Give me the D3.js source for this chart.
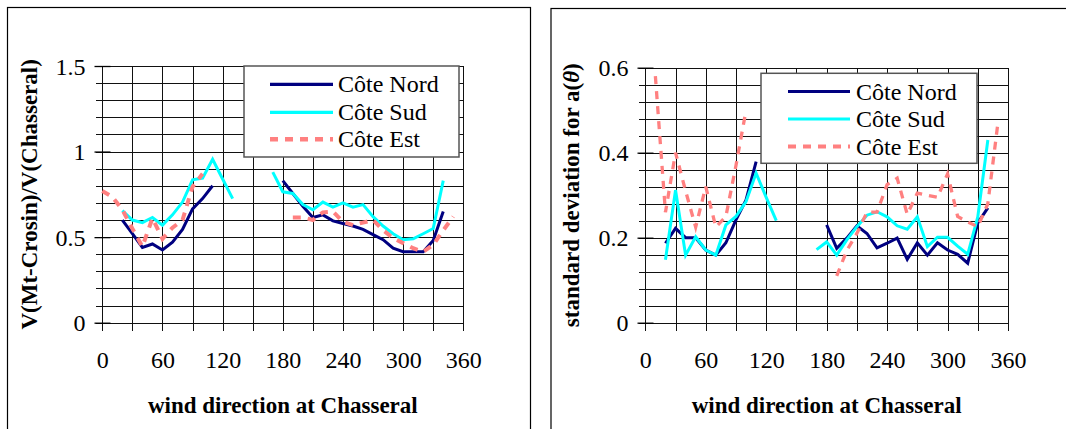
<!DOCTYPE html>
<html><head><meta charset="utf-8">
<script src="https://cdn.jsdelivr.net/npm/d3@7"></script>
<style>body{margin:0;background:#fff} svg{display:block}</style>
</head><body><svg id="c" width="1066" height="429"></svg>
<script>
// ---------- DATA ----------
const directions = [0,10,20,30,40,50,60,70,80,90,100,110,120,130,140,150,160,170,180,190,200,210,220,230,240,250,260,270,280,290,300,310,320,330,340,350];
const seriesNames = ["Côte Nord","Côte Sud","Côte Est"];

// left chart: V(Mt-Crosin)/V(Chasseral)
const nordRatio = [null,null,0.60,0.52,0.44,0.46,0.425,0.47,0.545,0.665,0.725,0.80,null,null,null,null,null,null,0.83,0.755,0.68,0.615,0.63,0.595,0.58,0.565,0.545,0.515,0.485,0.435,0.415,0.415,0.415,0.48,0.65,null];
const sudRatio   = [null,null,0.655,0.60,0.585,0.615,0.57,0.63,0.705,0.835,0.845,0.955,0.84,0.725,null,null,null,0.88,0.765,0.755,0.69,0.66,0.705,0.675,0.70,0.675,0.69,0.62,0.565,0.52,0.485,0.49,0.52,0.55,0.83,null];
const estRatio   = [0.77,0.735,0.66,0.55,0.445,0.61,0.49,0.555,0.60,0.795,0.87,null,null,null,null,null,null,null,null,0.615,0.615,0.60,0.645,0.65,0.59,0.57,0.585,0.60,0.54,0.495,0.465,0.435,0.415,0.455,0.54,0.62];

// right chart: standard deviation for a(θ)
const nordStd = [null,null,0.187,0.222,0.20,0.20,0.171,0.159,0.188,0.242,0.289,0.379,null,null,null,null,null,null,0.23,0.175,0.199,0.228,0.21,0.176,0.187,0.199,0.149,0.188,0.159,0.188,0.171,0.161,0.14,0.235,0.27,null];
const sudStd  = [null,null,0.148,0.312,0.159,0.202,0.171,0.159,0.23,0.25,0.285,0.352,0.295,0.24,null,null,null,0.172,0.19,0.159,0.195,0.226,0.253,0.261,0.249,0.228,0.22,0.249,0.179,0.201,0.201,0.18,0.161,0.249,0.43,null];
const estStd  = [null,0.58,0.26,0.40,0.31,0.225,0.32,0.225,0.25,0.37,0.50,null,null,null,null,null,null,null,null,0.11,0.17,0.21,0.26,0.26,0.325,0.34,0.255,0.305,0.30,0.295,0.35,0.25,0.237,0.226,0.28,0.47];

const xTickValues = [0,60,120,180,240,300,360];
const xTickLabels = ["0","60","120","180","240","300","360"];
const yTicksRatio = [0,0.5,1,1.5];
const yLabelsRatio = ["0","0.5","1","1.5"];
const yTicksStd = [0,0.2,0.4,0.6];
const yLabelsStd = ["0","0.2","0.4","0.6"];

// ---------- DRAW ----------
const svg = d3.select("#c");
const colors = ["#000080","#00FFFF","#FF8080"];
const serif = "Liberation Serif";

function drawChart(cfg){
  const g = svg.append("g");
  const x = d3.scaleLinear().domain([0,360]).range([cfg.x0,cfg.x1]);
  const y = d3.scaleLinear().domain([0,cfg.yMax]).range([cfg.y0,cfg.y1]);
  const px = v => Math.round(v)+0.5;

  // frame
  g.append("rect").attr("x",cfg.fx).attr("y",cfg.fy).attr("width",cfg.fw).attr("height",500)
    .attr("fill","none").attr("stroke","#000").attr("stroke-width",1.2);

  // horizontal grid (minor)
  const n = Math.round(cfg.yMax/cfg.minor);
  const hv = d3.range(n+1).map(i=>i*cfg.minor);
  g.selectAll(".hg").data(hv).join("line")
    .attr("x1",px(cfg.x0)-7).attr("x2",px(cfg.x1))
    .attr("y1",d=>px(y(d))).attr("y2",d=>px(y(d)))
    .attr("stroke","#111").attr("stroke-width",1).attr("shape-rendering","crispEdges");
  // vertical grid
  const vv = d3.range(13).map(i=>i*30);
  g.selectAll(".vg").data(vv).join("line")
    .attr("x1",d=>px(x(d))).attr("x2",d=>px(x(d)))
    .attr("y1",px(cfg.y1)).attr("y2",px(cfg.y0)+7)
    .attr("stroke","#111").attr("stroke-width",1).attr("shape-rendering","crispEdges");

  // y axis labels + major ticks
  const ya = d3.axisLeft(y).tickValues(cfg.yTicks).tickFormat((d,i)=>cfg.yLabels[i]).tickSize(8);
  const yg = g.append("g").attr("transform",`translate(${px(cfg.x0)},0)`).call(ya)
    .attr("font-family",serif).attr("font-size",24);
  yg.select(".domain").remove();
  yg.selectAll(".tick line").attr("x1",-8).attr("x2",8).attr("stroke","#000").attr("stroke-width",1.3);
  yg.selectAll(".tick text").attr("x",-17).attr("dy","0.34em")
    .attr("font-family",serif).attr("font-size",24).attr("fill","#000");

  // x axis labels
  const xa = d3.axisBottom(x).tickValues(xTickValues).tickFormat((d,i)=>xTickLabels[i]).tickSize(0);
  const xg = g.append("g").attr("transform",`translate(0,${cfg.y0})`).call(xa)
    .attr("font-family",serif).attr("font-size",24);
  xg.select(".domain").remove();
  xg.selectAll(".tick text").attr("y",45).attr("dy",0)
    .attr("font-family",serif).attr("font-size",24).attr("fill","#000");

  // titles
  g.append("text").attr("x",(cfg.x0+cfg.x1)/2).attr("y",413).attr("text-anchor","middle")
    .attr("font-family",serif).attr("font-weight","bold").attr("font-size",23).text("wind direction at Chasseral");
  const yt = g.append("text").attr("transform",`translate(${cfg.ytx},${(cfg.y0+cfg.y1)/2}) rotate(-90)`)
    .attr("text-anchor","middle").attr("font-family",serif).attr("font-weight","bold").attr("font-size",23);
  cfg.yTitle(yt);

  // lines
  const line = d3.line().defined(d=>d[1]!=null).x(d=>x(d[0])).y(d=>y(d[1]));
  cfg.series.forEach((s,i)=>{
    const pts = directions.map((d,j)=>[d,s[j]]);
    const p = g.append("path").attr("d",line(pts)).attr("fill","none")
      .attr("stroke",colors[i]).attr("stroke-linejoin","miter");
    if(i===2) p.attr("stroke-width",cfg.dashW).attr("stroke-dasharray","8,7");
    else p.attr("stroke-width",3);
  });

  // legend
  const L = cfg.legend;
  g.append("rect").attr("x",L.x).attr("y",L.y).attr("width",L.w).attr("height",L.h)
    .attr("fill","#fff").attr("stroke","#555").attr("stroke-width",1.5);
  seriesNames.forEach((nm,i)=>{
    const ly = L.ly[i];
    const ln = g.append("line").attr("x1",L.lx1).attr("x2",L.lx2).attr("y1",ly).attr("y2",ly)
      .attr("stroke",colors[i]);
    if(i===2) ln.attr("stroke-width",cfg.dashW+0.5).attr("stroke-dasharray","8,7");
    else ln.attr("stroke-width",3.2);
    g.append("text").attr("x",L.tx).attr("y",ly+8).attr("font-family",serif).attr("font-size",24).text(nm);
  });
}

drawChart({
  fx:7.5, fy:7.5, fw:523,
  x0:102.3, x1:463.3, y0:322.7, y1:66, yMax:1.5, minor:0.1,
  yTicks:yTicksRatio, yLabels:yLabelsRatio,
  ytx:37, dashW:4,
  yTitle: t=>t.text("V(Mt-Crosin)/V(Chasseral)"),
  series:[nordRatio,sudRatio,estRatio],
  legend:{x:244,y:66,w:215,h:91,lx1:270,lx2:333,tx:338,ly:[84.3,112.3,139.3]}
});
drawChart({
  fx:551, fy:8.5, fw:530,
  x0:645.3, x1:1008, y0:322.7, y1:67.7, yMax:0.6, minor:0.04,
  yTicks:yTicksStd, yLabels:yLabelsStd,
  ytx:579, dashW:3.3,
  yTitle: t=>{ t.append("tspan").text("standard deviation for a("); t.append("tspan").attr("font-style","italic").text("θ"); t.append("tspan").text(")"); },
  series:[nordStd,sudStd,estStd],
  legend:{x:761,y:73.3,w:216,h:90,lx1:788,lx2:850,tx:856,ly:[91.5,119,146.5]}
});
</script></body></html>
